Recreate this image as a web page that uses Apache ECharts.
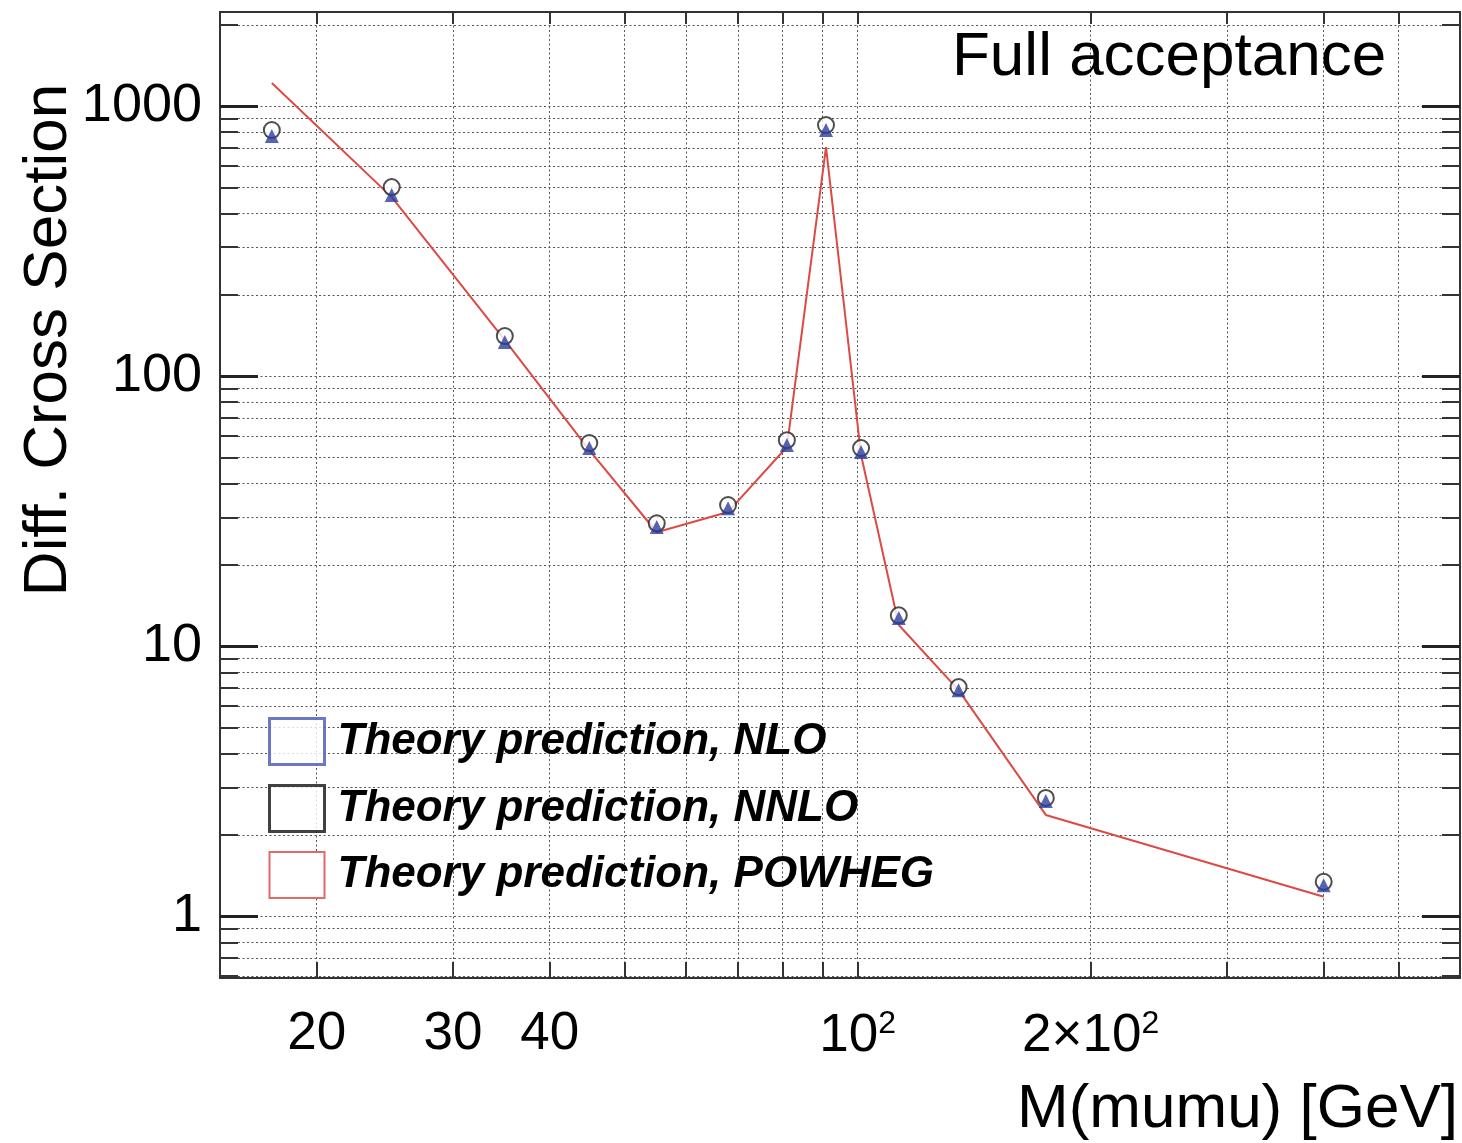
<!DOCTYPE html>
<html><head><meta charset="utf-8">
<script src="https://cdn.jsdelivr.net/npm/echarts@6/dist/echarts.min.js"></script>
<style>html,body{margin:0;padding:0;background:#fff}#c{width:1462px;height:1143px}</style>
</head><body><div id="c"></div>
<script>
// ---- data ----
const massBinCenters = [17.5, 25, 35, 45, 55, 68, 81, 91, 101, 113, 135, 175, 400];
const nloValues      = [774, 468, 133.6, 54.1, 27.6, 32.4, 55.5, 815, 52.3, 12.7, 6.87, 2.67, 1.30];
const nnloValues     = [815, 501, 140.7, 56.5, 28.5, 33.3, 57.9, 850, 54.1, 13.0, 7.05, 2.74, 1.34];
const powhegValues   = [1217, 460, 136, 53.2, 26.4, 31.4, 54.6, 705, 51.0, 11.97, 6.87, 2.37, 1.18];
const seriesNames = ['Theory prediction, NLO', 'Theory prediction, NNLO', 'Theory prediction, POWHEG'];
const xTickValues = [20, 30, 40, 50, 60, 70, 80, 90, 100, 200, 300, 400, 500];
const xLabelValues = [20, 30, 40, 100, 200];
const xLabelTexts = ['20', '30', '40', '10{sup|2}', '2×10{sup|2}'];
const yTickValues = [0.6, 0.7, 0.8, 0.9, 1, 2, 3, 4, 5, 6, 7, 8, 9, 10, 20, 30, 40, 50, 60, 70, 80, 90,
                     100, 200, 300, 400, 500, 600, 700, 800, 900, 1000, 2000];
const yLabelValues = [1, 10, 100, 1000];
const yLabelTexts = ['1', '10', '100', '1000'];
const xTitle = 'M(mumu) [GeV]';
const yTitle = 'Diff. Cross Section';
const panelText = 'Full acceptance';

const FONT = '"Liberation Sans", Arial, Helvetica, sans-serif';
const X_MIN = 15, X_MAX = 600, Y_MIN = 0.59, Y_MAX = 2230;

function pick(values, texts, v) {
  for (let i = 0; i < values.length; i++) {
    if (Math.abs(Math.log10(v) - Math.log10(values[i])) < 0.005) return texts[i];
  }
  return '';
}
function pairs(xs, ys) { return xs.map((x, i) => [x, ys[i]]); }

const axisLineStyle = { color: '#333', width: 2 };
const gridLineStyle = { color: '#555', width: 1, type: [2, 2.5] };

const chart = echarts.init(document.getElementById('c'), null, { renderer: 'canvas' });
chart.setOption({
  backgroundColor: '#fff',
  animation: false,
  textStyle: { fontFamily: FONT },
  grid: { left: 220, right: 2, top: 12, bottom: 165, containLabel: false },
  title: {
    text: panelText, left: 952, top: 27, padding: 0,
    textStyle: { fontFamily: FONT, fontSize: 62, fontWeight: 'normal', color: '#000' }
  },
  legend: {
    orient: 'vertical', left: 268, top: 717, padding: 0,
    itemWidth: 55, itemHeight: 46, itemGap: 18,
    selectedMode: false,
    textStyle: { fontFamily: FONT, fontSize: 44, fontWeight: 'bold', fontStyle: 'italic', color: '#000', padding: [0, 0, 0, 8] },
    data: [
      { name: seriesNames[0], icon: 'rect', itemStyle: { color: '#fff', borderColor: '#4357b5', borderWidth: 3 } },
      { name: seriesNames[1], icon: 'rect', itemStyle: { color: '#fff', borderColor: '#111', borderWidth: 3 } },
      { name: seriesNames[2], icon: 'rect', itemStyle: { color: '#fff', borderColor: '#e06a66', borderWidth: 2 } }
    ]
  },
  xAxis: [
    {
      type: 'log', logBase: 10, min: X_MIN, max: X_MAX, position: 'bottom',
      axisLine: { show: true, onZero: false, lineStyle: axisLineStyle },
      axisTick: { show: true, inside: true, length: 16, customValues: xTickValues, lineStyle: { color: '#333', width: 2 } },
      axisLabel: {
        show: true, customValues: xLabelValues, margin: 30,
        fontFamily: FONT, fontSize: 53, color: '#000',
        formatter: v => pick(xLabelValues, xLabelTexts, v),
        rich: { sup: { fontFamily: FONT, fontSize: 32, verticalAlign: 'top', padding: [0, 0, 24, 0] } }
      },
      splitLine: { show: true, lineStyle: gridLineStyle },
      minorTick: { show: false }
    },
    {
      type: 'log', logBase: 10, min: X_MIN, max: X_MAX, position: 'top',
      axisLine: { show: true, onZero: false, lineStyle: axisLineStyle },
      axisTick: { show: true, inside: true, length: 12, customValues: xTickValues, lineStyle: { color: '#333', width: 2 } },
      axisLabel: { show: false },
      splitLine: { show: false }
    }
  ],
  yAxis: [
    {
      type: 'log', logBase: 10, min: Y_MIN, max: Y_MAX, position: 'left',
      axisLine: { show: true, onZero: false, lineStyle: axisLineStyle },
      axisTick: { show: true, inside: true, length: 18, customValues: yTickValues, lineStyle: { color: '#333', width: 2 } },
      axisLabel: {
        show: true, customValues: yLabelValues, margin: 18,
        fontFamily: FONT, fontSize: 54, color: '#000',
        formatter: v => pick(yLabelValues, yLabelTexts, v)
      },
      splitLine: { show: true, lineStyle: gridLineStyle }
    },
    {
      type: 'log', logBase: 10, min: Y_MIN, max: Y_MAX, position: 'right',
      axisLine: { show: true, onZero: false, lineStyle: axisLineStyle },
      axisTick: { show: true, inside: true, length: 18, customValues: yTickValues, lineStyle: { color: '#333', width: 2 } },
      axisLabel: { show: false },
      splitLine: { show: false }
    },
    {
      type: 'log', logBase: 10, min: Y_MIN, max: Y_MAX, position: 'left',
      axisLine: { show: false, onZero: false },
      axisTick: { show: true, inside: true, length: 38, customValues: yLabelValues, lineStyle: { color: '#222', width: 3 } },
      axisLabel: { show: false },
      splitLine: { show: false }
    },
    {
      type: 'log', logBase: 10, min: Y_MIN, max: Y_MAX, position: 'right',
      axisLine: { show: false, onZero: false },
      axisTick: { show: true, inside: true, length: 38, customValues: yLabelValues, lineStyle: { color: '#222', width: 3 } },
      axisLabel: { show: false },
      splitLine: { show: false }
    }
  ],
  graphic: [
    {
      type: 'text', x: 49, y: 340, rotation: Math.PI / 2,
      style: { text: yTitle, fontFamily: FONT, fontSize: 62, fill: '#000', align: 'center', verticalAlign: 'middle' }
    },
    {
      type: 'text', x: 1458, y: 1110,
      style: { text: xTitle, fontFamily: FONT, fontSize: 62, fill: '#000', align: 'right', verticalAlign: 'middle' }
    }
  ],
  series: [
    {
      name: seriesNames[2], type: 'line', data: pairs(massBinCenters, powhegValues),
      showSymbol: false, symbol: 'none', z: 2,
      lineStyle: { color: '#dc4a44', width: 2 }, itemStyle: { color: '#dc4a44' }
    },
    {
      name: seriesNames[1], type: 'scatter', data: pairs(massBinCenters, nnloValues),
      symbol: 'emptyCircle', symbolSize: 16, z: 3,
      itemStyle: { color: '#222', borderColor: '#222', borderWidth: 2.5 }
    },
    {
      name: seriesNames[0], type: 'scatter', data: pairs(massBinCenters, nloValues),
      symbol: 'triangle', symbolSize: 14, z: 4,
      itemStyle: { color: '#2c3f9e' }
    }
  ]
});
</script>
</body></html>
